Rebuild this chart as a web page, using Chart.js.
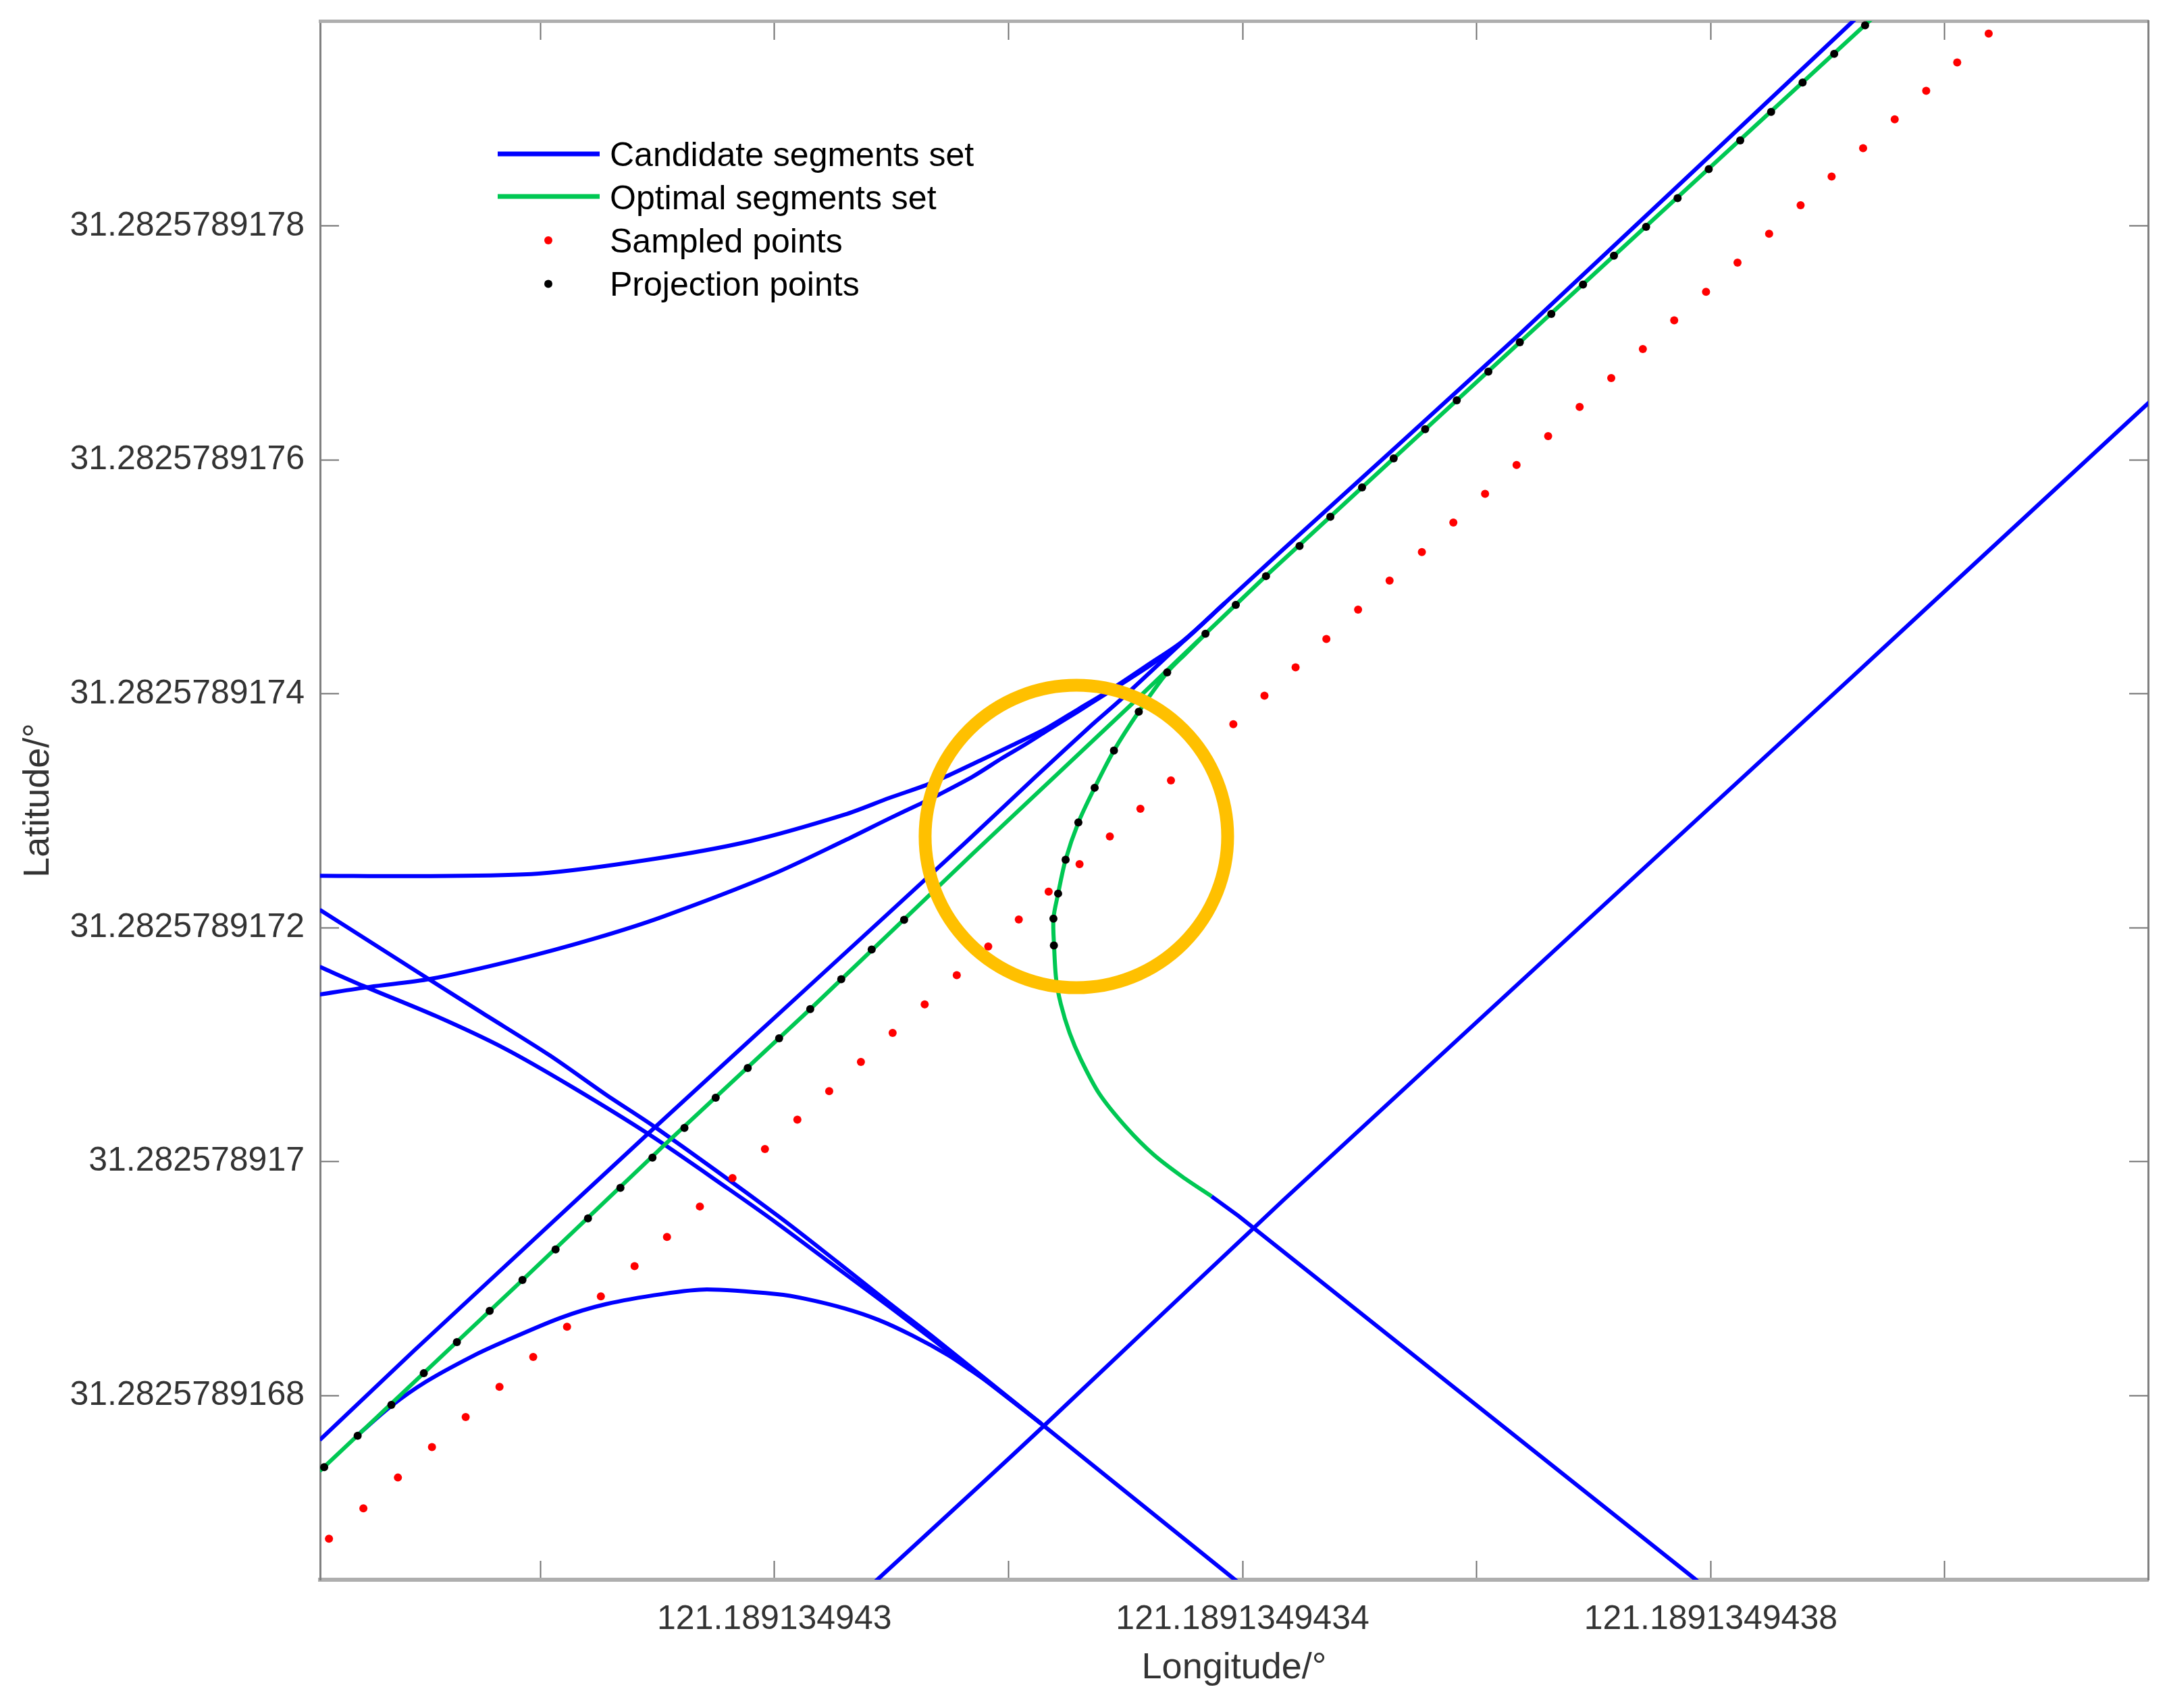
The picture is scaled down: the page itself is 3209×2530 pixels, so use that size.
<!DOCTYPE html>
<html>
<head>
<meta charset="utf-8">
<title>Candidate and optimal segments</title>
<script src="https://cdn.jsdelivr.net/npm/chart.js@4"></script>
<style>
  body { margin: 0; background: #fff; }
  canvas { display: block; }
</style>
</head>
<body>
<canvas id="chart" width="3209" height="2530"></canvas>
<script>
// values are offsets in units of 1e-10 degrees
// lon = 121.18913494 + x * 1e-10, lat = 31.28257891 + y * 1e-10
const xTicks = [28, 30, 32, 34, 36, 38, 40]
const xTickLabels = ['', '121.189134943', '', '121.1891349434', '', '121.1891349438', '']
const yTicks = [68, 70, 72, 74, 76, 78]
const yTickLabels = ['31.2825789168', '31.282578917', '31.2825789172', '31.2825789174', '31.2825789176', '31.2825789178']
const xRange = [26.118, 41.737]
const yRange = [66.424, 79.755]

const seriesNames = ['Candidate segments set', 'Optimal segments set', 'Sampled points', 'Projection points']

const sampledX = [26.194, 26.488, 26.783, 27.074, 27.362, 27.651, 27.939, 28.228, 28.517, 28.805, 29.082, 29.363, 29.642, 29.919, 30.196, 30.468, 30.739, 31.010, 31.284, 31.558, 31.827, 32.088, 32.343, 32.607, 32.866, 33.127, 33.388, 33.921, 34.187, 34.453, 34.716, 34.987, 35.256, 35.532, 35.801, 36.072, 36.341, 36.611, 36.880, 37.150, 37.420, 37.688, 37.960, 38.229, 38.499, 38.768, 39.033, 39.302, 39.572, 39.841, 40.106, 40.375]
const sampledY = [66.775, 67.035, 67.298, 67.558, 67.815, 68.074, 68.329, 68.588, 68.848, 69.106, 69.356, 69.616, 69.859, 70.107, 70.358, 70.603, 70.852, 71.100, 71.345, 71.594, 71.839, 72.071, 72.309, 72.544, 72.780, 73.017, 73.260, 73.740, 73.985, 74.227, 74.470, 74.720, 74.969, 75.213, 75.465, 75.711, 75.957, 76.204, 76.454, 76.701, 76.949, 77.195, 77.438, 77.688, 77.935, 78.179, 78.424, 78.667, 78.914, 79.157, 79.400, 79.647]

const projectionX = [26.153, 26.439, 26.727, 27.004, 27.287, 27.567, 27.847, 28.130, 28.407, 28.684, 28.958, 29.231, 29.498, 29.772, 30.040, 30.306, 30.571, 30.831, 31.108, 32.388, 32.384, 32.424, 32.488, 32.597, 32.736, 32.901, 33.113, 33.356, 33.683, 33.942, 34.200, 34.487, 34.750, 35.021, 35.291, 35.560, 35.830, 36.100, 36.369, 36.638, 36.909, 37.173, 37.448, 37.717, 37.983, 38.252, 38.516, 38.785, 39.055, 39.319]
const projectionY = [67.387, 67.655, 67.920, 68.190, 68.456, 68.723, 68.988, 69.249, 69.514, 69.776, 70.034, 70.288, 70.546, 70.800, 71.054, 71.304, 71.559, 71.813, 72.067, 71.848, 72.078, 72.292, 72.582, 72.900, 73.197, 73.515, 73.847, 74.183, 74.514, 74.761, 75.007, 75.265, 75.515, 75.765, 76.014, 76.263, 76.510, 76.756, 77.007, 77.249, 77.500, 77.747, 77.994, 78.240, 78.487, 78.733, 78.977, 79.228, 79.474, 79.717]

// candidate segments
const segAX = [26.115, 26.924, 27.695, 28.978, 30.268, 31.620, 32.234, 32.717, 32.948, 33.388, 33.619, 33.850, 34.352, 36.352, 39.221, 39.316]
const segAY = [67.618, 68.386, 69.102, 70.292, 71.475, 72.717, 73.294, 73.739, 73.941, 74.351, 74.564, 74.778, 75.240, 77.062, 79.758, 79.848]
const segBX = [26.115, 27.027, 27.986, 28.944, 29.792, 30.600, 30.985, 31.293, 31.447, 31.755, 32.043, 32.332, 32.601, 32.794, 32.948, 33.198, 33.486, 33.850]
const segBY = [72.445, 72.442, 72.463, 72.584, 72.740, 72.967, 73.111, 73.219, 73.284, 73.429, 73.566, 73.710, 73.872, 73.987, 74.085, 74.253, 74.449, 74.778]
const segCX = [26.115, 26.541, 27.060, 27.789, 28.465, 29.042, 29.971, 30.600, 30.985, 31.253, 31.408, 31.697, 31.945, 32.140, 32.332, 32.601, 32.794, 32.948, 33.198, 33.486, 33.850]
const segCY = [71.429, 71.494, 71.562, 71.725, 71.908, 72.093, 72.451, 72.746, 72.936, 73.063, 73.140, 73.294, 73.450, 73.566, 73.687, 73.854, 73.976, 74.074, 74.235, 74.443, 74.778]
const segDX = [26.115, 26.577, 27.039, 27.501, 28.078, 28.563, 28.984, 30.023, 30.543, 30.987, 31.368, 32.274, 33.936, 34.006]
const segDY = [72.154, 71.860, 71.565, 71.273, 70.910, 70.571, 70.292, 69.541, 69.137, 68.785, 68.490, 67.763, 66.423, 66.365]
const segEX = [26.115, 26.483, 27.118, 27.695, 28.272, 28.926, 29.608, 30.023, 30.543, 30.987, 31.368, 32.274]
const segEY = [71.666, 71.504, 71.240, 70.967, 70.638, 70.234, 69.766, 69.472, 69.085, 68.756, 68.467, 67.763]
const segFX = [26.444, 26.733, 27.022, 27.407, 27.695, 28.176, 28.561, 29.042, 29.423, 30.023, 30.271, 30.600, 30.889, 31.177, 31.483, 31.657, 31.870, 32.274]
const segFY = [67.665, 67.915, 68.117, 68.329, 68.463, 68.665, 68.781, 68.867, 68.906, 68.866, 68.825, 68.744, 68.646, 68.513, 68.346, 68.230, 68.080, 67.763]
const segHX = [30.802, 31.755, 32.303, 34.352, 39.224, 40.398, 41.746, 41.827]
const segHY = [66.354, 67.231, 67.740, 69.674, 74.160, 75.246, 76.493, 76.568]
const segIX = [33.735, 33.965, 37.867, 37.942]
const segIY = [69.703, 69.535, 66.429, 66.365]

// optimal segments
const optMainX = [26.115, 27.847, 29.053, 30.306, 31.697, 33.053, 34.200, 36.369, 39.359, 39.449]
const optMainY = [67.353, 68.987, 70.136, 71.304, 72.636, 73.912, 75.009, 77.007, 79.758, 79.842]
const optTurnX = [33.735, 33.486, 33.238, 33.007, 32.776, 32.620, 32.522, 32.447, 32.407, 32.390, 32.384, 32.424, 32.488, 32.597, 32.736, 32.901, 33.113, 33.356, 33.515, 33.683]
const optTurnY = [69.703, 69.870, 70.061, 70.292, 70.580, 70.869, 71.100, 71.348, 71.562, 71.833, 72.078, 72.292, 72.582, 72.900, 73.197, 73.515, 73.847, 74.183, 74.345, 74.512]

const circleX = [32.58]
const circleY = [72.78]

const BLUE = '#0000ff'
const GREEN = '#00c853'
const ORANGE = '#ffc000'
const TEXT = '#333333'
const FONT = '"Liberation Sans", Arial, sans-serif'

const toPoints = (xs, ys) => xs.map((x, i) => ({ x, y: ys[i] }))

const lineSet = (xs, ys, color, order, tension) => ({
	data: toPoints(xs, ys),
	showLine: true,
	borderColor: color,
	borderWidth: 6,
	pointRadius: 0,
	tension: tension,
	order: order
})

const dotSet = (xs, ys, color, radius, order) => ({
	data: toPoints(xs, ys),
	showLine: false,
	pointRadius: radius,
	pointBorderWidth: 0,
	pointBackgroundColor: color,
	order: order
})

// legend sits inside the plot, chart.js can't place it there on its own
const insideLegend = {
	id: 'insideLegend',
	afterDraw(chart) {
		const ctx = chart.ctx
		ctx.save()
		ctx.font = '50px ' + FONT
		ctx.fillStyle = '#000'
		ctx.textBaseline = 'alphabetic'
		ctx.textAlign = 'left'
		const baselines = [246, 310, 374, 438]
		seriesNames.forEach((name, i) => ctx.fillText(name, 903, baselines[i]))

		ctx.lineWidth = 7
		ctx.strokeStyle = BLUE
		ctx.beginPath(); ctx.moveTo(737, 228); ctx.lineTo(888, 228); ctx.stroke()
		ctx.strokeStyle = GREEN
		ctx.beginPath(); ctx.moveTo(737, 291); ctx.lineTo(888, 291); ctx.stroke()

		ctx.fillStyle = '#ff0000'
		ctx.beginPath(); ctx.arc(812, 356, 6, 0, Math.PI * 2); ctx.fill()
		ctx.fillStyle = '#000'
		ctx.beginPath(); ctx.arc(812, 420.5, 6, 0, Math.PI * 2); ctx.fill()
		ctx.restore()
	}
}

const tickGrid = { display: true, drawOnChartArea: false, drawTicks: true, tickLength: -28, tickColor: '#707070', tickWidth: 2 }
const setXTicks = (scale) => { scale.ticks = xTicks.map(value => ({ value })) }
const setYTicks = (scale) => { scale.ticks = yTicks.map(value => ({ value })) }
// fixed axis boxes, so the plot area lands where it does in the picture
const fixBox = (size) => (scale) => {
	if (scale.isHorizontal()) scale.height = size
	else scale.width = size
	scale.paddingLeft = scale.paddingRight = scale.paddingTop = scale.paddingBottom = 0
}

new Chart(document.getElementById('chart'), {
	type: 'scatter',
	data: {
		datasets: [
			dotSet(projectionX, projectionY, '#000000', 6, 1),
			dotSet(sampledX, sampledY, '#ff0000', 6, 1),
			{
				data: toPoints(circleX, circleY),
				showLine: false,
				pointRadius: 224,
				pointBorderWidth: 19,
				pointBorderColor: ORANGE,
				pointBackgroundColor: 'rgba(0,0,0,0)',
				order: 2
			},
			lineSet(optMainX, optMainY, GREEN, 3, 0),
			lineSet(optTurnX, optTurnY, GREEN, 3, 0.3),
			lineSet(segAX, segAY, BLUE, 4, 0.2),
			lineSet(segBX, segBY, BLUE, 4, 0.3),
			lineSet(segCX, segCY, BLUE, 4, 0.3),
			lineSet(segDX, segDY, BLUE, 4, 0.3),
			lineSet(segEX, segEY, BLUE, 4, 0.3),
			lineSet(segFX, segFY, BLUE, 4, 0.3),
			lineSet(segHX, segHY, BLUE, 4, 0.2),
			lineSet(segIX, segIY, BLUE, 4, 0)
		]
	},
	options: {
		responsive: false,
		animation: false,
		devicePixelRatio: 1,
		layout: { autoPadding: false, padding: { top: 31, right: 28, left: 0, bottom: 0 } },
		plugins: { legend: { display: false }, tooltip: { enabled: false } },
		scales: {
			x: {
				type: 'linear',
				position: 'bottom',
				min: xRange[0],
				max: xRange[1],
				afterBuildTicks: setXTicks,
				afterFit: fixBox(190),
				border: { color: '#aeaeae', width: 6 },
				grid: tickGrid,
				ticks: {
					autoSkip: false,
					maxRotation: 0,
					minRotation: 0,
					padding: 57,
					color: TEXT,
					font: { family: FONT, size: 50 },
					callback: (value, i) => xTickLabels[i]
				},
				title: { display: true, text: 'Longitude/°', color: TEXT, font: { family: FONT, size: 54 }, padding: { top: 0, bottom: 26 } }
			},
			y: {
				type: 'linear',
				position: 'left',
				min: yRange[0],
				max: yRange[1],
				afterBuildTicks: setYTicks,
				afterFit: fixBox(474),
				border: { color: '#808080', width: 3 },
				grid: tickGrid,
				ticks: {
					autoSkip: false,
					padding: 51,
					color: TEXT,
					font: { family: FONT, size: 50 },
					callback: (value, i) => yTickLabels[i]
				},
				title: { display: true, text: 'Latitude/°', color: TEXT, font: { family: FONT, size: 54 }, padding: { top: 25, bottom: 0 } }
			},
			xTop: {
				type: 'linear',
				axis: 'x',
				position: 'top',
				min: xRange[0],
				max: xRange[1],
				afterBuildTicks: setXTicks,
				afterFit: fixBox(0),
				border: { color: '#aeaeae', width: 5 },
				grid: tickGrid,
				ticks: { display: false }
			},
			yRight: {
				type: 'linear',
				axis: 'y',
				position: 'right',
				min: yRange[0],
				max: yRange[1],
				afterBuildTicks: setYTicks,
				afterFit: fixBox(0),
				border: { color: '#808080', width: 3 },
				grid: tickGrid,
				ticks: { display: false }
			}
		}
	},
	plugins: [insideLegend]
})
</script>
</body>
</html>
